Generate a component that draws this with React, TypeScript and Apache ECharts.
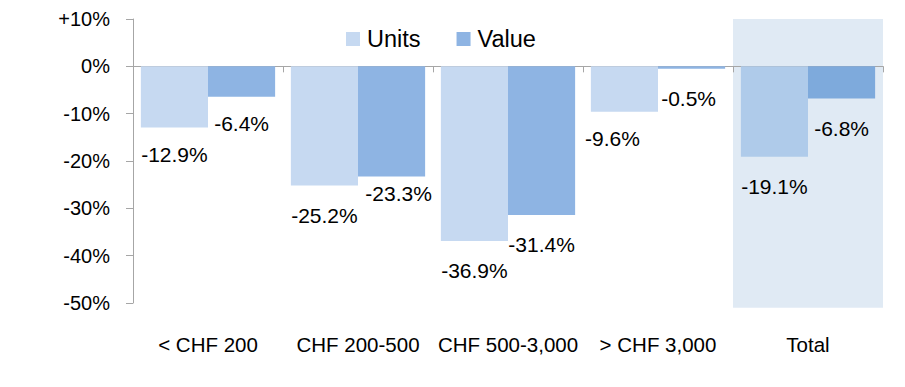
import React, { useEffect, useRef } from "react";
import * as echarts from "echarts";

const categories = ["< CHF 200", "CHF 200-500", "CHF 500-3,000", "> CHF 3,000", "Total"];
const unitsValues = [-12.9, -25.2, -36.9, -9.6, -19.1];
const valueValues = [-6.4, -23.3, -31.4, -0.5, -6.8];
const bgTop = [null, null, null, null, 10];
const bgBottom = [null, null, null, null, -51];

const unitsOffsets = [[0, -2], [0, 0], [0, 0], [-12, -3], [0, 0]];
const valueOffsets = [[0, -3], [7, -13], [0, 0], [-3, 0], [0, 0]];

const FONT = "'Liberation Sans', Arial, sans-serif";

export default function App() {
  const ref = useRef<HTMLDivElement>(null);
  useEffect(() => {
    if (!ref.current) return;
    const chart = echarts.init(ref.current, undefined, { renderer: "svg" });
    const labelBase = {
      show: true,
      position: "bottom" as const,
      distance: 19,
      color: "#000",
      fontSize: 21,
      fontFamily: FONT,
      formatter: (p: any) => p.value.toFixed(1) + "%",
    };
    chart.setOption({
      animation: false,
      textStyle: { fontFamily: FONT },
      grid: { left: 133, right: 22, top: 19, bottom: 84, containLabel: false },
      legend: {
        left: 341,
        top: 22,
        itemWidth: 14,
        itemHeight: 14,
        itemGap: 36,
        icon: "rect",
        data: ["Units", "Value"],
        textStyle: { fontSize: 23.5, color: "#000", fontFamily: FONT, padding: [0, 0, 0, 2] },
      },
      xAxis: [
        {
          type: "category",
          data: categories,
          position: "bottom",
          axisLine: { onZero: true, lineStyle: { color: "#a6a6a6", width: 1 } },
          axisTick: { show: true, length: 6, lineStyle: { color: "#a6a6a6" } },
          axisLabel: { show: false },
          splitLine: { show: false },
        },
        {
          type: "category",
          data: categories,
          position: "bottom",
          axisLine: { show: false, onZero: false },
          axisTick: { show: false },
          axisLabel: { show: true, interval: 0, margin: 31, fontSize: 20.5, color: "#000", fontFamily: FONT },
          splitLine: { show: false },
        },
      ],
      yAxis: {
        type: "value",
        min: -50,
        max: 10,
        interval: 10,
        axisLine: { show: true, lineStyle: { color: "#a6a6a6" } },
        axisTick: { show: true, length: 7, lineStyle: { color: "#a6a6a6" } },
        splitLine: { show: false },
        axisLabel: {
          margin: 23,
          fontSize: 20,
          color: "#000",
          fontFamily: FONT,
          formatter: (v: number) => (v > 0 ? "+" + v + "%" : v + "%"),
        },
      },
      series: [
        {
          name: "bgTop",
          type: "bar",
          xAxisIndex: 1,
          stack: "bg",
          data: bgTop,
          barWidth: "100%",
          itemStyle: { color: "#e0eaf4" },
          silent: true,
          clip: false,
          z: -1,
        },
        {
          name: "bgBottom",
          type: "bar",
          xAxisIndex: 1,
          stack: "bg",
          data: bgBottom,
          barWidth: "100%",
          itemStyle: { color: "#e0eaf4" },
          silent: true,
          clip: false,
          z: -1,
        },
        {
          name: "Units",
          type: "bar",
          xAxisIndex: 0,
          barGap: "0%",
          barCategoryGap: "10.5%",
          itemStyle: { color: "#c6d9f1" },
          data: unitsValues.map((v, i) => ({
            value: v,
            itemStyle: i === 4 ? { color: "#afcbea" } : undefined,
            label: { offset: unitsOffsets[i] },
          })),
          label: labelBase,
        },
        {
          name: "Value",
          type: "bar",
          xAxisIndex: 0,
          barGap: "0%",
          barCategoryGap: "10.5%",
          itemStyle: { color: "#8eb4e3" },
          data: valueValues.map((v, i) => ({
            value: v,
            itemStyle: i === 4 ? { color: "#7eaadc" } : undefined,
            label: { offset: valueOffsets[i] },
          })),
          label: labelBase,
        },
      ],
    });
    return () => chart.dispose();
  }, []);
  return <div ref={ref} style={{ width: 905, height: 387, margin: -8 }} />;
}
